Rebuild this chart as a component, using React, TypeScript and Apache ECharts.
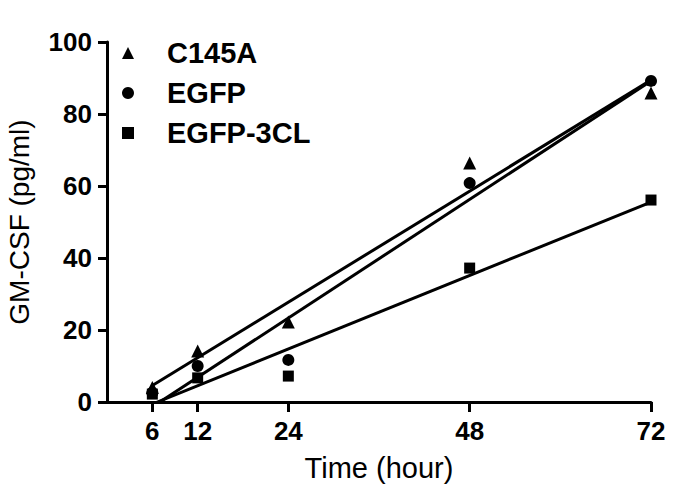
import React, { useEffect, useRef } from "react";
import * as echarts from "echarts";

const times = [6, 12, 24, 48, 72];
const c145a = [4, 14.2, 22.2, 66.4, 85.8];
const egfp = [2.6, 10, 11.7, 60.8, 89.2];
const egfp3cl = [2.2, 6.7, 7.2, 37.2, 56.1];
const xTicks = [6, 12, 24, 48, 72];
const seriesNames = ["C145A", "EGFP", "EGFP-3CL"];
const symbols = ["triangle", "circle", "rect"];

const FONT = 'Arial, "Liberation Sans", Helvetica, sans-serif';

function fit(xs: number[], ys: number[]) {
  const n = xs.length;
  const mx = xs.reduce((a, b) => a + b, 0) / n;
  const my = ys.reduce((a, b) => a + b, 0) / n;
  let sxy = 0;
  let sxx = 0;
  for (let i = 0; i < n; i++) {
    sxy += (xs[i] - mx) * (ys[i] - my);
    sxx += (xs[i] - mx) * (xs[i] - mx);
  }
  const slope = sxy / sxx;
  const intercept = my - slope * mx;
  const x0 = xs[0];
  const x1 = xs[n - 1];
  return [
    [x0, intercept + slope * x0],
    [x1, intercept + slope * x1],
  ];
}

export default function App() {
  const ref = useRef<HTMLDivElement>(null);
  useEffect(() => {
    document.body.style.margin = "0";
    if (!ref.current) return;
    const chart = echarts.init(ref.current, null, { renderer: "svg" });
    const all = [c145a, egfp, egfp3cl];
    const scatter = all.map((ys, i) => ({
      name: seriesNames[i],
      type: "scatter",
      symbol: symbols[i],
      symbolSize: i === 0 ? 13 : i === 1 ? 12 : 11,
      itemStyle: { color: "#000", opacity: 1 },
      data: times.map((t, j) => [t, ys[j]]),
      z: 3,
    }));
    const lines = all.map((ys, i) => ({
      name: seriesNames[i] + " fit",
      type: "line",
      symbol: "none",
      clip: true,
      lineStyle: { color: "#000", width: 3, opacity: 1 },
      data: fit(times, ys),
      z: 2,
    }));
    chart.setOption({
      animation: false,
      backgroundColor: "#fff",
      grid: { left: 107, right: 34, top: 42, bottom: 101, outerBoundsMode: "none", containLabel: false },
      legend: {
        data: seriesNames.map((n, i) => ({ name: n, icon: symbols[i] })),
        orient: "vertical",
        left: 117,
        top: 33,
        itemWidth: 12,
        itemHeight: 12,
        itemGap: 10,
        selectedMode: false,
        textStyle: {
          fontFamily: FONT,
          fontWeight: "bold",
          fontSize: 29,
          color: "#000",
          lineHeight: 30,
          padding: [0, 0, 0, 28],
        },
        itemStyle: { color: "#000", opacity: 1 },
      },
      xAxis: {
        type: "value",
        min: 0,
        max: 72,
        name: "Time (hour)",
        nameLocation: "middle",
        nameGap: 51,
        nameTextStyle: { fontFamily: FONT, fontSize: 29, color: "#000" },
        splitLine: { show: false },
        axisLine: { lineStyle: { color: "#000", width: 3 } },
        axisTick: {
          customValues: xTicks,
          length: 10,
          lineStyle: { color: "#000", width: 3 },
        },
        axisLabel: {
          customValues: xTicks,
          margin: 16,
          fontFamily: FONT,
          fontWeight: "bold",
          fontSize: 26,
          color: "#000",
        },
      },
      yAxis: {
        type: "value",
        min: 0,
        max: 100,
        interval: 20,
        name: "GM-CSF (pg/ml)",
        nameLocation: "middle",
        nameGap: 74,
        nameTextStyle: { fontFamily: FONT, fontSize: 28, color: "#000" },
        splitLine: { show: false },
        axisLine: { show: true, lineStyle: { color: "#000", width: 3 } },
        axisTick: { show: true, length: 9, lineStyle: { color: "#000", width: 3 } },
        axisLabel: {
          margin: 15,
          fontFamily: FONT,
          fontWeight: "bold",
          fontSize: 26,
          color: "#000",
        },
      },
      series: [...lines, ...scatter],
    });
    return () => chart.dispose();
  }, []);
  return <div ref={ref} style={{ width: 685, height: 503 }} />;
}
